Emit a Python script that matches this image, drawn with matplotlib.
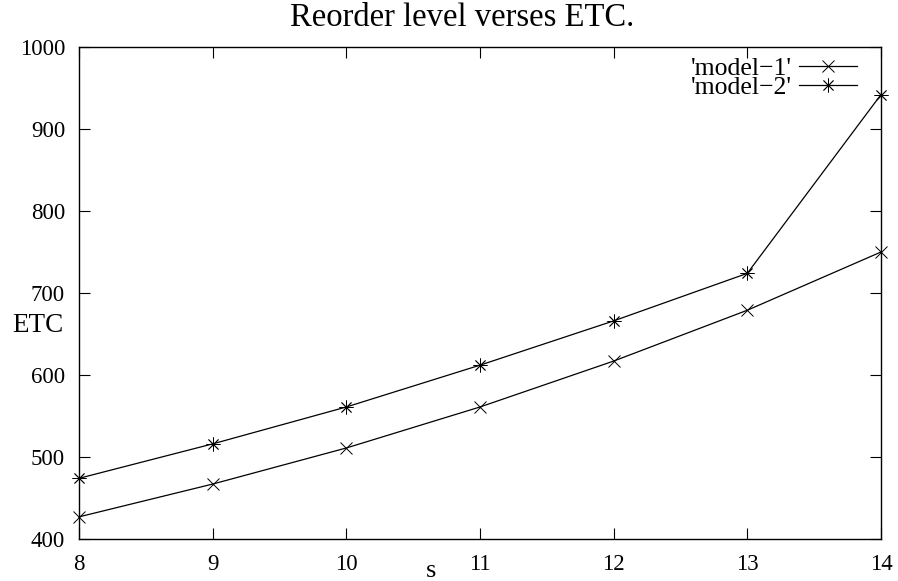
import matplotlib
matplotlib.use("Agg")
import matplotlib.pyplot as plt

# values
s_values = [8, 9, 10, 11, 12, 13, 14]
model_1 = [427, 467, 511, 561, 617, 679, 750]
model_2 = [474, 516, 561, 612, 666, 724, 942]

x_ticks = [8, 9, 10, 11, 12, 13, 14]
y_ticks = [400, 500, 600, 700, 800, 900, 1000]

plt.rcParams['font.family'] = ['Liberation Serif', 'DejaVu Serif']
plt.rcParams['font.size'] = 16


def main():
    fig = plt.figure(figsize=(8.98, 5.81), dpi=100)
    ax = fig.add_axes([79 / 898, 1 - 539 / 581, (881 - 79) / 898, (539 - 47) / 581])

    ax.plot(s_values, model_1, color='black', lw=0.9, marker='x', ms=9,
            mew=0.7, label="'model\u22121'", clip_on=False)
    ax.plot(s_values, model_2, color='black', lw=0.9, marker=(8, 2, 0), ms=10,
            mew=0.6, label="'model\u22122'", clip_on=False)

    ax.set_xlim(8, 14)
    ax.set_ylim(400, 1000)
    ax.set_xticks(x_ticks)
    ax.set_yticks(y_ticks)
    ax.tick_params(direction='in', length=8, width=0.8, top=True, right=True,
                   labelsize=16.5)
    ax.tick_params(axis='x', pad=11)
    ax.tick_params(axis='y', pad=10)
    for sp in ax.spines.values():
        sp.set_linewidth(1.0)

    fig.text(462 / 898, 1 - 18 / 581, "Reorder level verses ETC.",
             ha='center', va='center', fontsize=23.5)
    fig.text(38 / 898, 1 - 326 / 581, "ETC", ha='center', va='center', fontsize=19.5)
    fig.text(431 / 898, 1 - 571 / 581, "s", ha='center', va='center', fontsize=19)

    leg = ax.legend(loc='upper right', markerfirst=False, frameon=False,
                    fontsize=18.5, handlelength=2.25, handletextpad=0.3,
                    labelspacing=-0.14, borderpad=0, borderaxespad=0.0,
                    bbox_to_anchor=(857 / 898, 1 - 57 / 581),
                    bbox_transform=fig.transFigure)
    for t in leg.get_texts():
        t.set_ha('right')

    fig.savefig("out.png", dpi=100)


if __name__ == "__main__":
    main()
